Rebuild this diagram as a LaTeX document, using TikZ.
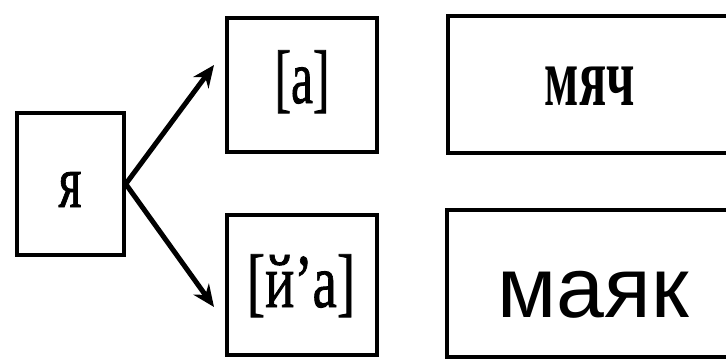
\documentclass[tikz,border=0pt]{standalone}
\usepackage{fontspec}
\setmainfont{Liberation Serif}
\newfontfamily\scanfont[FakeBold=1.2,Ligatures=TeX]{Liberation Serif}
\newfontfamily\arialfont{Liberation Sans}
\usetikzlibrary{arrows.meta}
\begin{document}
\begin{tikzpicture}[x=1pt,y=-1pt,
  box/.style={draw, line width=3.5pt, inner sep=0pt},
  lbl/.style={font=\fontsize{76}{76}\scanfont, inner sep=0pt, anchor=base},
  arr/.style={line width=5pt, -{Stealth[length=22pt,width=19pt]}}]
\useasboundingbox[fill=white] (0,0) rectangle (726,360);
% boxes
\node[box, minimum width=107pt, minimum height=142pt] (ya) at (70.5,184) {};
\node[box, minimum width=150pt, minimum height=134pt] (a) at (302,85) {};
\node[box, minimum width=150pt, minimum height=140pt] (ja) at (302,285) {};
\node[box, minimum width=300pt, minimum height=137pt] (mjach) at (598,84.5) {};
\node[box, line width=4pt, minimum width=300pt, minimum height=147pt] (majak) at (597,283.5) {};
% labels
\node[lbl] (tya) at (70,207) {\scalebox{0.65}[1]{я}};
\node[lbl] (ta) at (302,103) {\scalebox{0.65}[1]{[a]}};
\node[lbl] (tja) at (301,307) {\scalebox{0.72}[1]{[й’а]}};
\node[lbl, font=\fontsize{84}{84}\selectfont\bfseries] (tmjach) at (590,105) {\scalebox{0.6}[1]{мяч}};
\node[lbl, font=\fontsize{86}{86}\arialfont] (tmajak) at (593,317) {маяк};
% arrows
\coordinate (tipa) at (214,65);
\coordinate (tipb) at (214,307);
\draw[arr] (ya.east) -- (tipa);
\draw[arr] (ya.east) -- (tipb);
\end{tikzpicture}
\end{document}
